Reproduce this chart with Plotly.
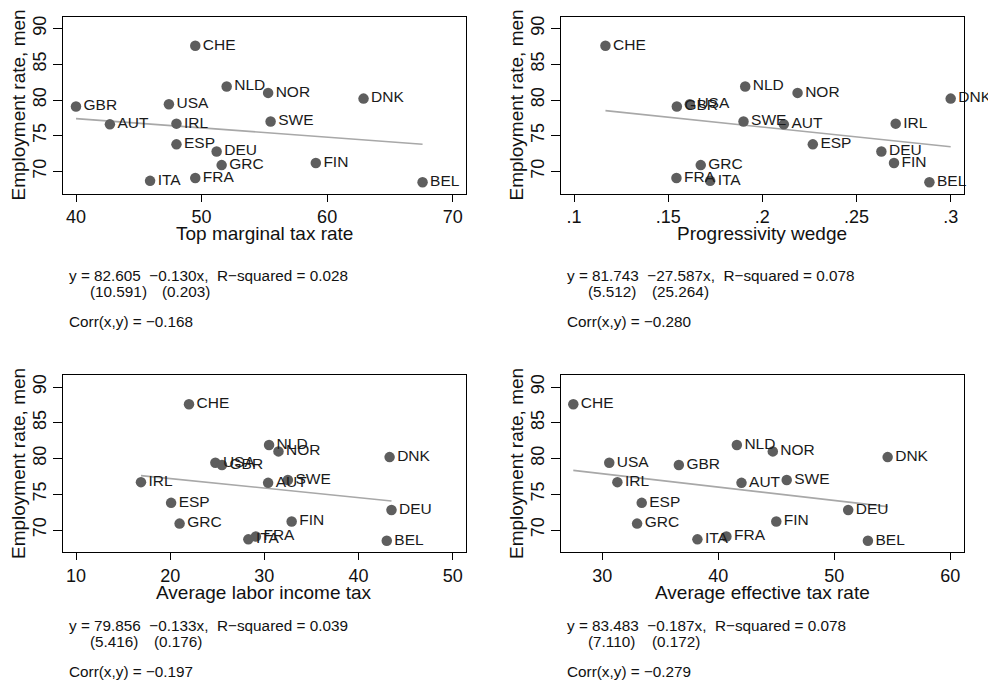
import plotly.graph_objects as go

# The page body has an 8px margin, so the figure is drawn 8px in from the top-left.
OFF = 8
W, H = 996 - OFF, 690 - OFF

countries = ["CHE", "NLD", "NOR", "DNK", "USA", "GBR", "SWE", "IRL",
             "AUT", "ESP", "DEU", "FIN", "GRC", "FRA", "ITA", "BEL"]
employment = [87.6, 81.9, 81.0, 80.2, 79.4, 79.1, 77.0, 76.7,
              76.6, 73.8, 72.8, 71.2, 70.9, 69.1, 68.7, 68.5]

top_marginal = [49.5, 52.0, 55.3, 62.9, 47.4, 40.0, 55.5, 48.0,
                42.7, 48.0, 51.2, 59.1, 51.6, 49.5, 45.9, 67.6]
progressivity = [0.1167, 0.1909, 0.2187, 0.3000, 0.1615, 0.1546, 0.1900, 0.2708,
                 0.2114, 0.2268, 0.2632, 0.2699, 0.1673, 0.1544, 0.1723, 0.2887]
avg_labor = [22.0, 30.5, 31.5, 43.3, 24.8, 25.5, 32.5, 16.9,
             30.4, 20.1, 43.5, 32.9, 21.0, 29.1, 28.3, 43.0]
avg_effective = [27.5, 41.6, 44.7, 54.6, 30.6, 36.6, 45.9, 31.3,
                 42.0, 33.4, 51.2, 45.0, 33.0, 40.7, 38.2, 52.9]

x_titles = ["Top marginal tax rate", "Progressivity wedge",
            "Average labor income tax", "Average effective tax rate"]
y_title = "Employment rate, men"

intercepts = [82.605, 81.743, 79.856, 83.483]
slopes = [-0.130, -27.587, -0.133, -0.187]
intercept_se = ["10.591", "5.512", "5.416", "7.110"]
slope_se = ["0.203", "25.264", "0.176", "0.172"]
r_squared = ["0.028", "0.078", "0.039", "0.078"]
corrs = ["\u22120.168", "\u22120.280", "\u22120.197", "\u22120.279"]

x_tickvals = [[40, 50, 60, 70], [0.1, 0.15, 0.2, 0.25, 0.3],
              [10, 20, 30, 40, 50], [30, 40, 50, 60]]
x_ticktext = [["40", "50", "60", "70"], [".1", ".15", ".2", ".25", ".3"],
              ["10", "20", "30", "40", "50"], ["30", "40", "50", "60"]]
x_ranges = [[38.965, 71.02], [0.0931, 0.3068], [8.62, 51.36], [26.44, 61.14]]
y_tickvals = [70, 75, 80, 85, 90]
y_range = [66.93, 91.68]

xs_all = [top_marginal, progressivity, avg_labor, avg_effective]

FONT = "Liberation Sans, Arial, Helvetica, sans-serif"
MARKER = "#5e5e5e"
LINE = "#a8a8a8"

# panel pixel boxes in page coordinates (left, right, top, bottom)
boxes = [(63, 465.5, 16.5, 193.5), (561, 963.5, 16.5, 193.5),
         (63, 465.5, 375, 552), (561, 963.5, 375, 552)]
text_y = [(275.7, 291.2, 321.7), (275.7, 291.2, 321.7),
          (625.7, 641.2, 671.7), (625.7, 641.2, 671.7)]


def px(x):
    return (x - OFF) / W


def py(y):
    return 1 - (y - OFF) / H


fig = go.Figure()
annotations = []
layout = dict(width=W, height=H, margin=dict(l=0, r=0, t=0, b=0),
              paper_bgcolor="white", plot_bgcolor="white", showlegend=False,
              font=dict(family=FONT, color="#111"))

for i in range(4):
    n = "" if i == 0 else str(i + 1)
    xs = xs_all[i]
    xmin, xmax = min(xs), max(xs)
    fig.add_trace(go.Scatter(
        x=[xmin, xmax], y=[intercepts[i] + slopes[i] * xmin, intercepts[i] + slopes[i] * xmax],
        mode="lines", line=dict(color=LINE, width=1.6),
        xaxis="x" + n, yaxis="y" + n, hoverinfo="skip"))
    fig.add_trace(go.Scatter(
        x=xs, y=employment, text=countries, mode="markers+text",
        textposition="middle right",
        textfont=dict(family=FONT, size=15.5, color="#1a1a1a"),
        marker=dict(color=MARKER, size=10.5, line=dict(width=0)),
        xaxis="x" + n, yaxis="y" + n, cliponaxis=False))
    l, r, t, b = boxes[i]
    layout["xaxis" + n] = dict(
        domain=[px(l), px(r)], range=x_ranges[i], anchor="y" + n,
        tickmode="array", tickvals=x_tickvals[i], ticktext=x_ticktext[i],
        ticks="outside", ticklen=7, tickwidth=1, tickcolor="black",
        showline=True, linecolor="black", linewidth=1, mirror=True,
        showgrid=False, zeroline=False,
        tickfont=dict(family=FONT, size=18, color="#111"))
    layout["yaxis" + n] = dict(
        domain=[py(b), py(t)], range=y_range, anchor="x" + n,
        tickmode="array", tickvals=y_tickvals,
        ticks="outside", ticklen=9, tickwidth=1, tickcolor="black",
        tickangle=-90,
        showline=True, linecolor="black", linewidth=1, mirror=True,
        showgrid=False, zeroline=False,
        tickfont=dict(family=FONT, size=18, color="#111"))
    # axis titles
    annotations.append(dict(
        x=px((l + r) / 2), y=py(b + 40.5), xref="paper", yref="paper",
        text=x_titles[i], showarrow=False, xanchor="center", yanchor="middle",
        font=dict(family=FONT, size=19, color="#111")))
    annotations.append(dict(
        x=px(l - 44.5), y=py((t + b) / 2), xref="paper", yref="paper",
        text=y_title, showarrow=False, xanchor="center", yanchor="middle",
        textangle=-90, font=dict(family=FONT, size=19, color="#111")))
    # regression text
    ty1, ty2, ty3 = text_y[i]
    sp = "\u00a0"
    eq = ("y = %.3f%s%s\u2212%.3fx,%s%sR\u2212squared = %s"
          % (intercepts[i], sp, sp, abs(slopes[i]), sp, sp, r_squared[i]))
    annotations.append(dict(
        x=px(l + 4), y=py(ty1), xref="paper", yref="paper", text=eq,
        showarrow=False, xanchor="left", yanchor="middle",
        font=dict(family=FONT, size=15.3, color="#111")))
    annotations.append(dict(
        x=px(l + 25), y=py(ty2), xref="paper", yref="paper",
        text="(" + intercept_se[i] + ")", showarrow=False, xanchor="left", yanchor="middle",
        font=dict(family=FONT, size=15.3, color="#111")))
    annotations.append(dict(
        x=px(l + 97 - (0 if len(intercept_se[i]) > 5 else 8)), y=py(ty2), xref="paper", yref="paper",
        text="(" + slope_se[i] + ")", showarrow=False, xanchor="left", yanchor="middle",
        font=dict(family=FONT, size=15.3, color="#111")))
    annotations.append(dict(
        x=px(l + 4), y=py(ty3), xref="paper", yref="paper",
        text="Corr(x,y) = " + corrs[i], showarrow=False, xanchor="left", yanchor="middle",
        font=dict(family=FONT, size=15.3, color="#111")))

layout["annotations"] = annotations
fig.update_layout(**layout)
fig.write_html("out.html")
